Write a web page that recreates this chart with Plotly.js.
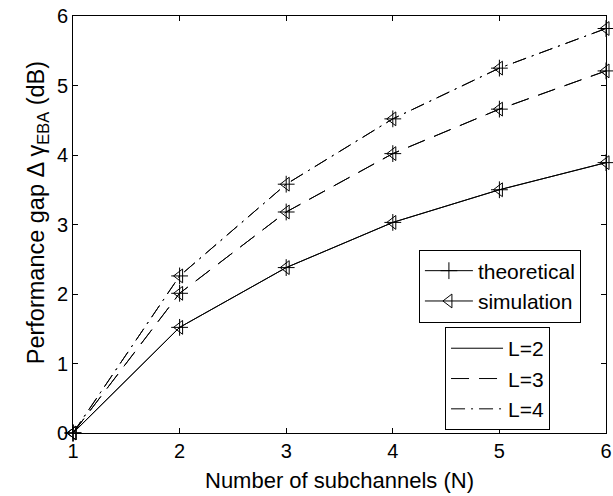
<!DOCTYPE html>
<html>
<head>
<meta charset="utf-8">
<script src="https://cdn.plot.ly/plotly-3.0.1.min.js"></script>
<style>html,body{margin:0;padding:0;background:#fff;}#chart{width:613px;height:496px;}</style>
</head>
<body>
<div id="chart"></div>
<script>
const N = [1, 2, 3, 4, 5, 6];
const theoL2 = [0, 1.52, 2.38, 3.03, 3.50, 3.89];
const theoL3 = [0, 2.01, 3.18, 4.02, 4.66, 5.21];
const theoL4 = [0, 2.26, 3.58, 4.52, 5.25, 5.82];
const simL2 = [0, 1.52, 2.38, 3.03, 3.50, 3.89];
const simL3 = [0, 2.01, 3.18, 4.02, 4.66, 5.21];
const simL4 = [0, 2.26, 3.58, 4.52, 5.25, 5.82];
const xTicks = [1, 2, 3, 4, 5, 6];
const yTicks = [0, 1, 2, 3, 4, 5, 6];
const xTitle = 'Number of subchannels (N)';
const yTitle = 'Performance gap Δ γ<sub>EBA</sub> (dB)';
const methodNames = ['theoretical', 'simulation'];
const lNames = ['L=2', 'L=3', 'L=4'];

const FONT = 'Liberation Sans, Arial, sans-serif';
const dashes = {L2: 'solid', L3: '18px,10px', L4: '14px,6px,2px,6px'};

function curve(y, dash, sym) {
  return {
    x: N, y: y, mode: 'lines+markers', type: 'scatter', showlegend: false,
    cliponaxis: false,
    line: {color: 'black', width: 1, dash: dash},
    marker: {symbol: sym, size: 12, color: 'black', line: {color: 'black', width: 1}}
  };
}

const traces = [
  curve(theoL2, dashes.L2, 'cross-thin-open'),
  curve(theoL3, dashes.L3, 'cross-thin-open'),
  curve(theoL4, dashes.L4, 'cross-thin-open'),
  curve(simL2, dashes.L2, 'triangle-left-open'),
  curve(simL3, dashes.L3, 'triangle-left-open'),
  curve(simL4, dashes.L4, 'triangle-left-open'),
  {x: [null], y: [null], name: methodNames[0], mode: 'lines+markers', legend: 'legend',
   line: {color: 'black', width: 1}, marker: {symbol: 'cross-thin-open', size: 12, color: 'black', line: {color: 'black', width: 1}}},
  {x: [null], y: [null], name: methodNames[1], mode: 'lines+markers', legend: 'legend',
   line: {color: 'black', width: 1}, marker: {symbol: 'triangle-left-open', size: 12, color: 'black', line: {color: 'black', width: 1}}},
  {x: [null], y: [null], name: lNames[0], mode: 'lines', legend: 'legend2',
   line: {color: 'black', width: 1, dash: dashes.L2}},
  {x: [null], y: [null], name: lNames[1], mode: 'lines', legend: 'legend2',
   line: {color: 'black', width: 1, dash: dashes.L3}},
  {x: [null], y: [null], name: lNames[2], mode: 'lines', legend: 'legend2',
   line: {color: 'black', width: 1, dash: dashes.L4}}
];

const axisCommon = {
  showgrid: false, zeroline: false, showline: true, linecolor: 'black', linewidth: 1,
  mirror: 'ticks', ticks: 'inside', ticklen: 5, tickcolor: 'black',
  tickfont: {family: FONT, size: 20, color: 'black'}
};

const layout = {
  width: 613, height: 496,
  margin: {l: 73, r: 7, t: 16, b: 63},
  paper_bgcolor: 'white', plot_bgcolor: 'white',
  font: {family: FONT, size: 20, color: 'black'},
  xaxis: Object.assign({}, axisCommon, {
    range: [1, 6], tickvals: xTicks, ticktext: xTicks.map(String)
  }),
  yaxis: Object.assign({}, axisCommon, {
    range: [0, 6], tickvals: yTicks, ticktext: yTicks.map(String)
  }),
  annotations: [
    {text: xTitle, xref: 'paper', yref: 'paper', x: 0.5, y: -0.115, xanchor: 'center', yanchor: 'middle',
     showarrow: false, font: {family: FONT, size: 22, color: 'black'}},
    {text: yTitle, xref: 'paper', yref: 'paper', x: -0.0675, y: 0.527, xanchor: 'center', yanchor: 'middle',
     textangle: -90, showarrow: false, font: {family: FONT, size: 23.5, color: 'black'}}
  ],
  legend: {
    x: 0.649, y: 0.44, xanchor: 'left', yanchor: 'top',
    bgcolor: 'white', bordercolor: 'black', borderwidth: 1,
    font: {family: FONT, size: 21}, itemwidth: 48, tracegroupgap: 0
  },
  legend2: {
    x: 0.698, y: 0.254, xanchor: 'left', yanchor: 'top',
    bgcolor: 'white', bordercolor: 'black', borderwidth: 1,
    font: {family: FONT, size: 21}, itemwidth: 52, tracegroupgap: 0
  },
  showlegend: true
};

Plotly.newPlot('chart', traces, layout, {displayModeBar: false, staticPlot: true});
</script>
</body>
</html>
